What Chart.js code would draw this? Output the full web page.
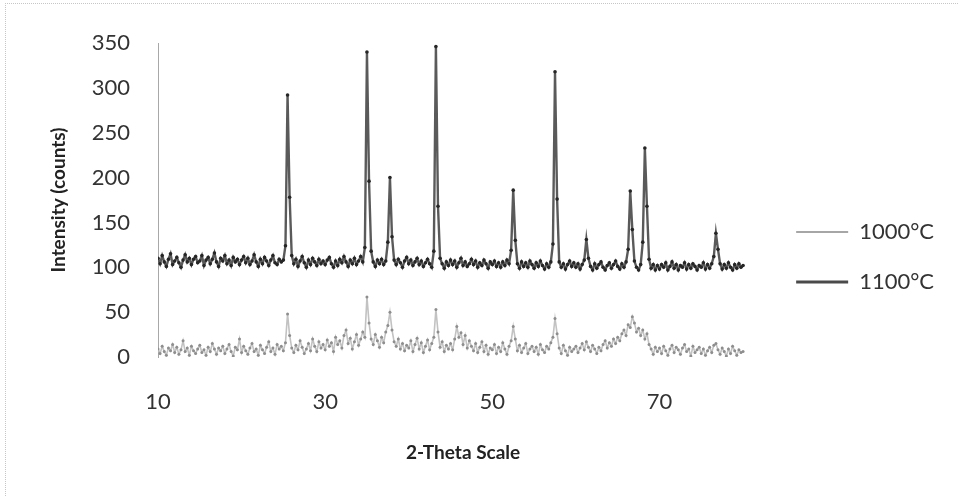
<!DOCTYPE html>
<html>
<head>
<meta charset="utf-8">
<title>XRD pattern</title>
<script src="https://cdn.jsdelivr.net/npm/chart.js@4.4.0/dist/chart.umd.min.js"></script>
<style>
  html, body { margin: 0; padding: 0; background: #fff; }
  #wrap { position: relative; width: 958px; height: 496px; }
  #frame {
    position: absolute; left: 5px; top: 3px; right: 0; bottom: 0;
    border-left: 1px dotted #c6c6c6; border-top: 1px dotted #c6c6c6;
    pointer-events: none;
  }
</style>
</head>
<body>
<div id="wrap">
  <canvas id="xrdChart" width="958" height="496"></canvas>
  <div id="frame"></div>
</div>
<script>
// scan grid (2-theta, degrees)
const thetaStart = 10;
const thetaStep = 0.25;

const xTicks = [10, 30, 50, 70];
const yTicks = [0, 50, 100, 150, 200, 250, 300, 350];
const seriesNames = ['1000°C', '1100°C'];

// intensity counts, one row per 5 degrees
const counts1000 = [
  9, 4, 12, 6, 2, 10, 7, 14, 5, 11, 3, 8, 18, 6, 10, 2, 12, 7, 4, 9,
  13, 5, 8, 2, 11, 6, 15, 9, 3, 10, 7, 12, 4, 9, 14, 6, 1, 11, 8, 20,
  5, 12, 7, 3, 10, 15, 6, 9, 2, 13, 8, 4, 11, 17, 6, 10, 3, 14, 9, 12,
  7, 16, 48, 24, 10, 5, 13, 8, 18, 11, 4, 9, 15, 7, 20, 12, 6, 17, 10, 14,
  8, 19, 12, 16, 6, 22, 14, 18, 10, 24, 30, 15, 21, 9, 17, 25, 13, 20, 28, 22,
  67, 38, 20, 14, 25, 18, 11, 22, 16, 28, 35, 50, 30, 17, 12, 20, 9, 15, 7, 13,
  10, 18, 6, 14, 21, 9, 16, 5, 12, 19, 8, 15, 22, 53, 28, 11, 17, 6, 13, 9,
  15, 8, 20, 34, 22, 27, 14, 24, 10, 18, 12, 7, 15, 5, 11, 17, 6, 13, 3, 10,
  8, 14, 4, 11, 6, 16, 9, 3, 12, 18, 34, 20, 7, 13, 5, 10, 15, 4, 9, 12,
  6, 11, 3, 14, 8, 5, 12, 9, 16, 22, 43, 26, 10, 4, 13, 7, 2, 11, 6, 9,
  12, 5, 10, 15, 8, 17, 11, 6, 13, 9, 4, 11, 7, 14, 18, 10, 16, 12, 20, 15,
  22, 18, 26, 30, 24, 36, 33, 45, 38, 28, 32, 24, 30, 20, 26, 14, 9, 3, 11, 6,
  10, 4, 12, 7, 2, 9, 13, 5, 11, 8, 3, 10, 14, 6, 9, 1, 12, 5, 8, 11,
  4, 9, 2, 7, 11, 5, 13, 15, 8, 3, 10, 6, 1, 9, 4, 12, 7, 2, 8, 5,
  6
];

const counts1100 = [
  110, 104, 113, 106, 101, 109, 115, 103, 107, 111, 105, 100, 108, 114, 106, 110, 103, 109, 112, 105,
  107, 113, 102, 108, 111, 104, 109, 116, 106, 101, 110, 107, 113, 104, 108, 102, 111, 106, 109, 103,
  108, 112, 105, 110, 103, 107, 114, 106, 101, 109, 104, 111, 107, 102, 108, 113, 105, 103, 109, 106,
  108, 124, 292, 178, 113, 104, 109, 101, 107, 112, 105, 100, 108, 103, 110, 106, 102, 109, 104, 107,
  103, 108, 111, 104, 100, 107, 102, 109, 105, 112, 106, 101, 108, 104, 110, 103, 107, 112, 106, 122,
  340, 196, 118, 106, 101, 108, 104, 109, 103, 107, 128, 200, 134, 108, 103, 109, 105, 100, 107, 111,
  104, 108, 102, 106, 110, 103, 107, 101, 105, 109, 104, 100, 118, 346, 168, 110, 104, 99, 106, 102,
  108, 103, 107, 100, 105, 110, 102, 106, 101, 104, 109, 103, 107, 100, 105, 102, 108, 104, 99, 106,
  103, 107, 101, 105, 100, 106, 102, 108, 104, 119, 186, 130, 104, 99, 106, 101, 105, 100, 107, 103,
  99, 105, 101, 107, 102, 98, 104, 100, 106, 126, 318, 176, 106, 100, 104, 98, 103, 107, 101, 105,
  100, 104, 98, 103, 108, 131, 110, 101, 97, 104, 99, 103, 106, 100, 97, 102, 105, 99, 103, 107,
  101, 98, 104, 100, 106, 120, 185, 142, 107, 100, 97, 103, 128, 233, 168, 109, 99, 103, 97, 102,
  98, 103, 100, 105, 97, 101, 106, 99, 103, 97, 102, 100, 105, 98, 103, 99, 104, 101, 97, 102,
  100, 105, 98, 103, 99, 104, 112, 138, 120, 104, 98, 103, 99, 105, 100, 97, 103, 99, 104, 100,
  102
];

function toPoints(counts) {
  return counts.map((c, i) => ({ x: thetaStart + i * thetaStep, y: c }));
}

const fontFamily = 'Lato, "Open Sans", sans-serif';

const ctx = document.getElementById('xrdChart').getContext('2d');
const xrdChart = new Chart(ctx, {
  type: 'line',
  data: {
    datasets: [{
      label: seriesNames[0],
      data: toPoints(counts1000),
      borderColor: '#c2c2c2',
      borderWidth: 1.6,
      pointRadius: 1.5,
      pointBorderWidth: 0,
      pointBackgroundColor: '#8e8e8e'
    }, {
      label: seriesNames[1],
      data: toPoints(counts1100),
      borderColor: '#5a5a5a',
      borderWidth: 2.4,
      pointRadius: 1.8,
      pointBorderWidth: 0,
      pointBackgroundColor: '#262626'
    }]
  },
  options: {
    responsive: false,
    animation: false,
    layout: {
      padding: { top: 43, right: 14, bottom: 25, left: 0 }
    },
    plugins: {
      legend: {
        position: 'right',
        labels: {
          usePointStyle: true,
          pointStyle: 'line',
          pointStyleWidth: 52,
          padding: 28,
          color: '#333',
          font: { family: fontFamily, size: 22 },
          // short line samples in each series colour
          generateLabels: (chart) => chart.data.datasets.map((ds, i) => ({
            text: ds.label,
            datasetIndex: i,
            pointStyle: 'line',
            strokeStyle: i === 0 ? '#a6a6a6' : '#4a4a4a',
            fillStyle: ds.borderColor,
            lineWidth: i === 0 ? 2 : 3,
            fontColor: '#333',
            hidden: false
          }))
        }
      },
      tooltip: { enabled: false }
    },
    scales: {
      x: {
        type: 'linear',
        min: 10,
        max: 83,
        afterBuildTicks: (scale) => { scale.ticks = xTicks.map(v => ({ value: v })); },
        afterFit: (scale) => { scale.height = 114; },
        grid: { display: false, drawTicks: false },
        border: { display: false },
        ticks: {
          padding: 32,
          color: '#333',
          font: { family: fontFamily, size: 22 }
        },
        title: {
          display: true,
          text: '2-Theta Scale',
          color: '#222',
          font: { family: fontFamily, size: 19, weight: 'bold' },
          padding: { top: 0, bottom: 7 }
        }
      },
      y: {
        type: 'linear',
        min: 0,
        max: 350,
        afterBuildTicks: (scale) => { scale.ticks = yTicks.map(v => ({ value: v })); },
        afterFit: (scale) => { scale.width = 158; },
        grid: { display: false, drawTicks: false },
        border: { display: true, color: '#a8a8a8', width: 1, dash: [1, 3] },
        ticks: {
          padding: 28,
          color: '#333',
          font: { family: fontFamily, size: 22 }
        },
        title: {
          display: true,
          text: 'Intensity (counts)',
          color: '#222',
          font: { family: fontFamily, size: 19, weight: 'bold' },
          padding: { top: 47, bottom: 0 }
        }
      }
    }
  }
});
</script>
</body>
</html>
